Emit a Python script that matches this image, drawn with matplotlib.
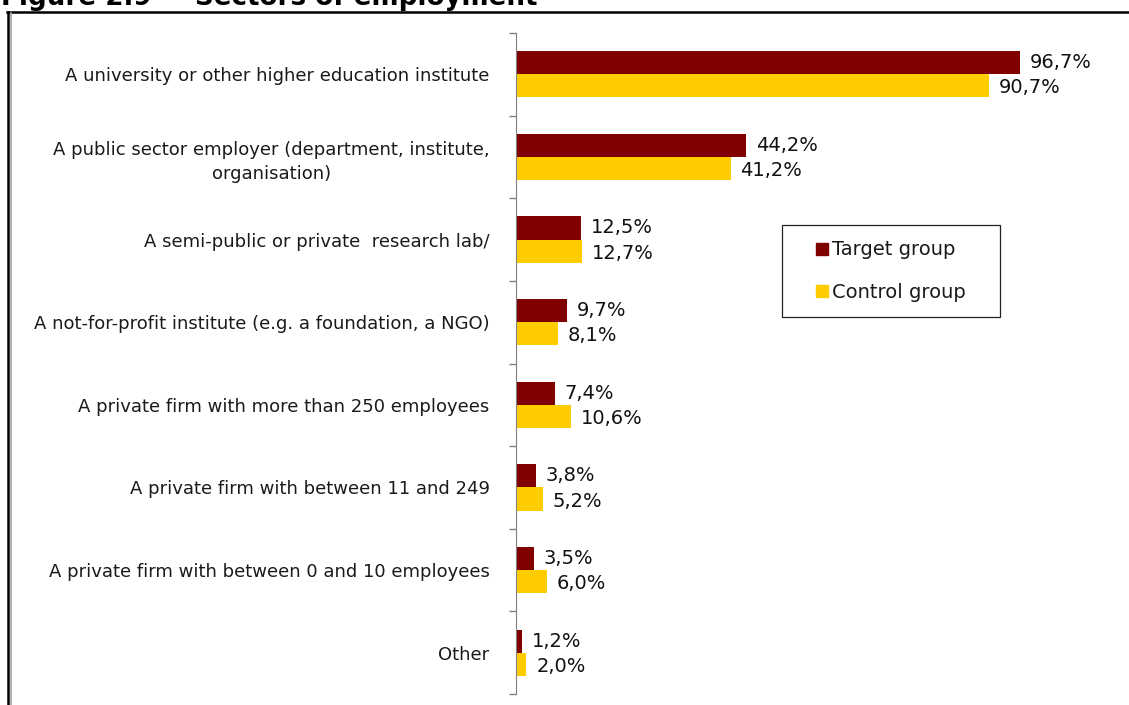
'''
Sectors of employment, target vs control group (horizontal bars)
'''

import matplotlib.pyplot as plt
from matplotlib.lines import Line2D
from matplotlib.patches import Rectangle

sectors = [
    'A university or other higher education institute',
    'A public sector employer (department, institute,\norganisation)',
    'A semi-public or private  research lab/',
    'A not-for-profit institute (e.g. a foundation, a NGO)',
    'A private firm with more than 250 employees',
    'A private firm with between 11 and 249',
    'A private firm with between 0 and 10 employees',
    'Other',
]
target = [96.7, 44.2, 12.5, 9.7, 7.4, 3.8, 3.5, 1.2]
control = [90.7, 41.2, 12.7, 8.1, 10.6, 5.2, 6.0, 2.0]
series = ['Target group', 'Control group']
colors = ['#800000', '#FFCC00']

W, H = 1129, 705
fig = plt.figure(figsize=(W / 100, H / 100), dpi=100)
ax = fig.add_axes([516 / W, 1 - 694 / H, 521 / W, 661 / H])

pos = list(range(len(sectors)))
bh = 0.28
ax.barh([p - bh / 2 for p in pos], target, height=bh, color=colors[0])
ax.barh([p + bh / 2 for p in pos], control, height=bh, color=colors[1])

def pct(v):
    return ('%.1f' % v).replace('.', ',') + '%'

for p, t, c in zip(pos, target, control):
    ax.annotate(pct(t), (t, p - bh / 2), xytext=(7, 0), textcoords='offset points',
                va='center', ha='left', fontsize=14, color='#111111')
    ax.annotate(pct(c), (c, p + bh / 2), xytext=(7, -1.5), textcoords='offset points',
                va='center', ha='left', fontsize=14, color='#111111')

ax.set_xlim(0, 100)
ax.set_ylim(len(sectors) - 0.5, -0.5)
ax.set_yticks(pos)
ax.set_yticklabels(sectors, fontsize=13, color='#1a1a1a', multialignment='center',
                   linespacing=1.45)
ax.set_yticks([p - 0.5 for p in pos] + [len(sectors) - 0.5], minor=True)
ax.tick_params(axis='y', which='major', length=0, pad=19)
ax.tick_params(axis='y', which='minor', length=5, color='#808080', width=1)
ax.set_xticks([])
for s in ['top', 'right', 'bottom']:
    ax.spines[s].set_visible(False)
ax.spines['left'].set_color('#808080')

# legend entries without frame, box drawn separately
handles = [Line2D([], [], marker='s', linestyle='none', markersize=8,
                  markerfacecolor=col, markeredgecolor=col) for col in colors]
leg = ax.legend(handles, series, loc='center left',
                bbox_to_anchor=((815 - 516) / 521, (694 - 271) / 661),
                fontsize=14, frameon=False, borderpad=0, labelspacing=1.2,
                handlelength=0.7, handletextpad=0.15, borderaxespad=0)
for t in leg.get_texts():
    t.set_color('#1a1a1a')
fig.add_artist(Rectangle((782 / W, 1 - 317 / H), 218 / W, 92 / H, fill=False,
                         edgecolor='#222222', lw=0.9, transform=fig.transFigure))

# page frame and the clipped caption above it
fig.add_artist(Line2D([7 / W, 1], [1 - 12 / H, 1 - 12 / H], color='black', lw=1.8))
fig.add_artist(Line2D([7.5 / W, 7.5 / W], [0, 1 - 12 / H], color='black', lw=1.8))
fig.add_artist(Line2D([10.5 / W, 10.5 / W], [0, 1 - 13 / H], color='#a0a0a0', lw=1.2))
cap = dict(fontsize=18.8, fontweight='bold', va='baseline')
fig.text(1 / W, 1 - 5 / H, 'Figure 2.9', ha='left', **cap)
fig.text(174 / W, 1 - 5 / H, '\u2013', ha='center', **cap)
fig.text(195 / W, 1 - 5 / H, 'Sectors of employment', ha='left', **cap)

plt.savefig('out.png', dpi=100)
